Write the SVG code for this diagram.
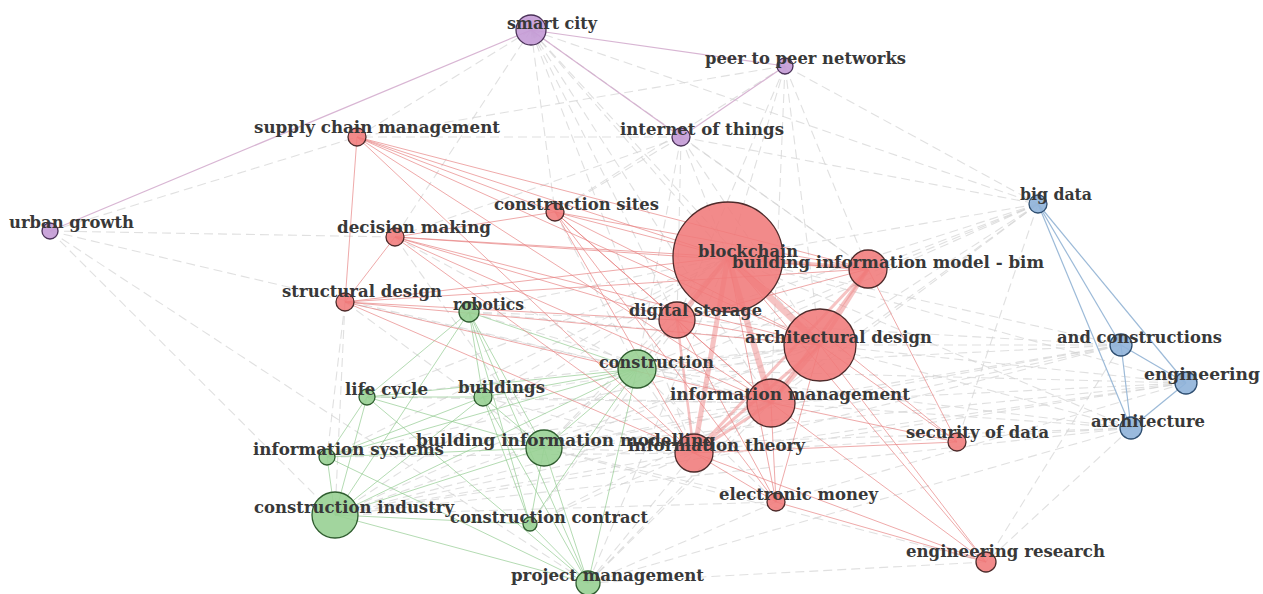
<svg xmlns="http://www.w3.org/2000/svg" width="1263" height="594" viewBox="0 0 1263 594">
<style>
.ed{stroke:#d3d3d3;stroke-width:1.1;stroke-dasharray:9 5;fill:none;opacity:.7}
.ep{stroke:#d2a9cc;stroke-width:1.2;opacity:.85}
.eb{stroke:#9cbad8;stroke-width:1.2}
.er{stroke:#e77d7d;stroke-width:1;opacity:.65}
.et{stroke:#ee8888;opacity:.5}
.eg{stroke:#8dc98b;stroke-width:1;opacity:.65}
.nr{fill:#f07a7a;fill-opacity:.88;stroke:#4d2a2a;stroke-width:1.3}
.ng{fill:#98d094;fill-opacity:.9;stroke:#2f5d2f;stroke-width:1.3}
.np{fill:#c49bd6;fill-opacity:.9;stroke:#4a3158;stroke-width:1.3}
.nb{fill:#8fb3d9;fill-opacity:.9;stroke:#2e4e70;stroke-width:1.3}
text{font-family:"DejaVu Serif","Liberation Serif",serif;font-weight:bold;font-size:16.5px;fill:#383838}
</style>
<g id="connectors">
<g class="ed-group">
<line class="ed" x1="531" y1="30" x2="357" y2="137"/>
<line class="ed" x1="531" y1="30" x2="555" y2="212"/>
<line class="ed" x1="531" y1="30" x2="395" y2="237"/>
<line class="ed" x1="531" y1="30" x2="728" y2="257"/>
<line class="ed" x1="531" y1="30" x2="677" y2="320"/>
<line class="ed" x1="531" y1="30" x2="868" y2="269"/>
<line class="ed" x1="531" y1="30" x2="820" y2="345"/>
<line class="ed" x1="531" y1="30" x2="771" y2="403"/>
<line class="ed" x1="531" y1="30" x2="1038" y2="204"/>
<line class="ed" x1="531" y1="30" x2="694" y2="453"/>
<line class="ed" x1="50" y1="231" x2="357" y2="137"/>
<line class="ed" x1="50" y1="231" x2="637" y2="369"/>
<line class="ed" x1="50" y1="231" x2="335" y2="515"/>
<line class="ed" x1="50" y1="231" x2="588" y2="583"/>
<line class="ed" x1="50" y1="231" x2="395" y2="237"/>
<line class="ed" x1="785" y1="66" x2="728" y2="257"/>
<line class="ed" x1="785" y1="66" x2="677" y2="320"/>
<line class="ed" x1="785" y1="66" x2="868" y2="269"/>
<line class="ed" x1="785" y1="66" x2="820" y2="345"/>
<line class="ed" x1="785" y1="66" x2="1038" y2="204"/>
<line class="ed" x1="785" y1="66" x2="555" y2="212"/>
<line class="ed" x1="785" y1="66" x2="357" y2="137"/>
<line class="ed" x1="785" y1="66" x2="771" y2="403"/>
<line class="ed" x1="681" y1="137" x2="728" y2="257"/>
<line class="ed" x1="681" y1="137" x2="677" y2="320"/>
<line class="ed" x1="681" y1="137" x2="555" y2="212"/>
<line class="ed" x1="681" y1="137" x2="637" y2="369"/>
<line class="ed" x1="681" y1="137" x2="868" y2="269"/>
<line class="ed" x1="681" y1="137" x2="820" y2="345"/>
<line class="ed" x1="681" y1="137" x2="1038" y2="204"/>
<line class="ed" x1="681" y1="137" x2="357" y2="137"/>
<line class="ed" x1="681" y1="137" x2="395" y2="237"/>
<line class="ed" x1="1038" y1="204" x2="728" y2="257"/>
<line class="ed" x1="1038" y1="204" x2="868" y2="269"/>
<line class="ed" x1="1038" y1="204" x2="820" y2="345"/>
<line class="ed" x1="1038" y1="204" x2="771" y2="403"/>
<line class="ed" x1="1038" y1="204" x2="694" y2="453"/>
<line class="ed" x1="1038" y1="204" x2="637" y2="369"/>
<line class="ed" x1="1038" y1="204" x2="957" y2="442"/>
<line class="ed" x1="1038" y1="204" x2="677" y2="320"/>
<line class="ed" x1="1038" y1="204" x2="335" y2="515"/>
<line class="ed" x1="1121" y1="345" x2="728" y2="257"/>
<line class="ed" x1="1121" y1="345" x2="820" y2="345"/>
<line class="ed" x1="1121" y1="345" x2="771" y2="403"/>
<line class="ed" x1="1121" y1="345" x2="694" y2="453"/>
<line class="ed" x1="1121" y1="345" x2="637" y2="369"/>
<line class="ed" x1="1121" y1="345" x2="544" y2="448"/>
<line class="ed" x1="1121" y1="345" x2="335" y2="515"/>
<line class="ed" x1="1121" y1="345" x2="677" y2="320"/>
<line class="ed" x1="1186" y1="383" x2="728" y2="257"/>
<line class="ed" x1="1186" y1="383" x2="820" y2="345"/>
<line class="ed" x1="1186" y1="383" x2="771" y2="403"/>
<line class="ed" x1="1186" y1="383" x2="694" y2="453"/>
<line class="ed" x1="1186" y1="383" x2="637" y2="369"/>
<line class="ed" x1="1186" y1="383" x2="544" y2="448"/>
<line class="ed" x1="1186" y1="383" x2="335" y2="515"/>
<line class="ed" x1="1186" y1="383" x2="776" y2="502"/>
<line class="ed" x1="1131" y1="428" x2="728" y2="257"/>
<line class="ed" x1="1131" y1="428" x2="820" y2="345"/>
<line class="ed" x1="1131" y1="428" x2="771" y2="403"/>
<line class="ed" x1="1131" y1="428" x2="694" y2="453"/>
<line class="ed" x1="1131" y1="428" x2="637" y2="369"/>
<line class="ed" x1="1131" y1="428" x2="544" y2="448"/>
<line class="ed" x1="1131" y1="428" x2="335" y2="515"/>
<line class="ed" x1="1131" y1="428" x2="986" y2="562"/>
<line class="ed" x1="1131" y1="428" x2="588" y2="583"/>
<line class="ed" x1="1121" y1="345" x2="986" y2="562"/>
<line class="ed" x1="986" y1="562" x2="588" y2="583"/>
<line class="ed" x1="986" y1="562" x2="544" y2="448"/>
<line class="ed" x1="345" y1="302" x2="335" y2="515"/>
<line class="ed" x1="345" y1="302" x2="327" y2="457"/>
<line class="ed" x1="637" y1="369" x2="728" y2="257"/>
<line class="ed" x1="637" y1="369" x2="820" y2="345"/>
<line class="ed" x1="637" y1="369" x2="771" y2="403"/>
<line class="ed" x1="637" y1="369" x2="694" y2="453"/>
<line class="ed" x1="637" y1="369" x2="677" y2="320"/>
<line class="ed" x1="637" y1="369" x2="776" y2="502"/>
<line class="ed" x1="544" y1="448" x2="728" y2="257"/>
<line class="ed" x1="544" y1="448" x2="820" y2="345"/>
<line class="ed" x1="544" y1="448" x2="771" y2="403"/>
<line class="ed" x1="544" y1="448" x2="694" y2="453"/>
<line class="ed" x1="544" y1="448" x2="776" y2="502"/>
<line class="ed" x1="544" y1="448" x2="677" y2="320"/>
<line class="ed" x1="335" y1="515" x2="728" y2="257"/>
<line class="ed" x1="335" y1="515" x2="820" y2="345"/>
<line class="ed" x1="335" y1="515" x2="771" y2="403"/>
<line class="ed" x1="335" y1="515" x2="694" y2="453"/>
<line class="ed" x1="335" y1="515" x2="776" y2="502"/>
<line class="ed" x1="588" y1="583" x2="728" y2="257"/>
<line class="ed" x1="588" y1="583" x2="771" y2="403"/>
<line class="ed" x1="588" y1="583" x2="694" y2="453"/>
<line class="ed" x1="588" y1="583" x2="776" y2="502"/>
<line class="ed" x1="588" y1="583" x2="820" y2="345"/>
<line class="ed" x1="530" y1="524" x2="694" y2="453"/>
<line class="ed" x1="530" y1="524" x2="771" y2="403"/>
<line class="ed" x1="530" y1="524" x2="728" y2="257"/>
<line class="ed" x1="469" y1="312" x2="728" y2="257"/>
<line class="ed" x1="469" y1="312" x2="820" y2="345"/>
<line class="ed" x1="469" y1="312" x2="677" y2="320"/>
<line class="ed" x1="469" y1="312" x2="771" y2="403"/>
<line class="ed" x1="367" y1="397" x2="728" y2="257"/>
<line class="ed" x1="367" y1="397" x2="820" y2="345"/>
<line class="ed" x1="367" y1="397" x2="771" y2="403"/>
<line class="ed" x1="483" y1="397" x2="728" y2="257"/>
<line class="ed" x1="483" y1="397" x2="820" y2="345"/>
<line class="ed" x1="483" y1="397" x2="771" y2="403"/>
<line class="ed" x1="483" y1="397" x2="694" y2="453"/>
<line class="ed" x1="327" y1="457" x2="728" y2="257"/>
<line class="ed" x1="327" y1="457" x2="820" y2="345"/>
<line class="ed" x1="327" y1="457" x2="771" y2="403"/>
<line class="ed" x1="327" y1="457" x2="694" y2="453"/>
<line class="ed" x1="555" y1="212" x2="637" y2="369"/>
<line class="ed" x1="395" y1="237" x2="637" y2="369"/>
<line class="ed" x1="345" y1="302" x2="637" y2="369"/>
<line class="ed" x1="345" y1="302" x2="544" y2="448"/>
<line class="ed" x1="395" y1="237" x2="544" y2="448"/>
</g>
<g class="purple">
<line class="ep" x1="531" y1="30" x2="50" y2="231"/>
<line class="ep" x1="531" y1="30" x2="785" y2="66"/>
<line class="ep" x1="785" y1="66" x2="681" y2="137"/>
<line class="ep" x1="531" y1="30" x2="681" y2="137"/>
</g>
<g class="blue">
<line class="eb" x1="1038" y1="204" x2="1121" y2="345"/>
<line class="eb" x1="1038" y1="204" x2="1186" y2="383"/>
<line class="eb" x1="1038" y1="204" x2="1131" y2="428"/>
<line class="eb" x1="1121" y1="345" x2="1131" y2="428"/>
<line class="eb" x1="1121" y1="345" x2="1186" y2="383"/>
<line class="eb" x1="1186" y1="383" x2="1131" y2="428"/>
</g>
<g class="green">
<line class="eg" x1="335" y1="515" x2="327" y2="457"/>
<line class="eg" x1="335" y1="515" x2="367" y2="397"/>
<line class="eg" x1="335" y1="515" x2="483" y2="397"/>
<line class="eg" x1="335" y1="515" x2="469" y2="312"/>
<line class="eg" x1="335" y1="515" x2="544" y2="448"/>
<line class="eg" x1="335" y1="515" x2="637" y2="369"/>
<line class="eg" x1="335" y1="515" x2="530" y2="524"/>
<line class="eg" x1="335" y1="515" x2="588" y2="583"/>
<line class="eg" x1="588" y1="583" x2="469" y2="312"/>
<line class="eg" x1="588" y1="583" x2="483" y2="397"/>
<line class="eg" x1="588" y1="583" x2="544" y2="448"/>
<line class="eg" x1="588" y1="583" x2="530" y2="524"/>
<line class="eg" x1="588" y1="583" x2="367" y2="397"/>
<line class="eg" x1="588" y1="583" x2="637" y2="369"/>
<line class="eg" x1="588" y1="583" x2="327" y2="457"/>
<line class="eg" x1="544" y1="448" x2="469" y2="312"/>
<line class="eg" x1="544" y1="448" x2="367" y2="397"/>
<line class="eg" x1="544" y1="448" x2="483" y2="397"/>
<line class="eg" x1="544" y1="448" x2="637" y2="369"/>
<line class="eg" x1="544" y1="448" x2="327" y2="457"/>
<line class="eg" x1="544" y1="448" x2="530" y2="524"/>
<line class="eg" x1="637" y1="369" x2="469" y2="312"/>
<line class="eg" x1="637" y1="369" x2="367" y2="397"/>
<line class="eg" x1="637" y1="369" x2="483" y2="397"/>
<line class="eg" x1="637" y1="369" x2="327" y2="457"/>
<line class="eg" x1="637" y1="369" x2="530" y2="524"/>
<line class="eg" x1="469" y1="312" x2="483" y2="397"/>
<line class="eg" x1="469" y1="312" x2="367" y2="397"/>
<line class="eg" x1="469" y1="312" x2="530" y2="524"/>
<line class="eg" x1="367" y1="397" x2="483" y2="397"/>
<line class="eg" x1="367" y1="397" x2="327" y2="457"/>
<line class="eg" x1="327" y1="457" x2="483" y2="397"/>
<line class="eg" x1="530" y1="524" x2="483" y2="397"/>
</g>
<g class="red">
<line class="er" x1="728" y1="257" x2="357" y2="137"/>
<line class="er" x1="728" y1="257" x2="555" y2="212"/>
<line class="er" x1="728" y1="257" x2="395" y2="237"/>
<line class="er" x1="728" y1="257" x2="345" y2="302"/>
<line class="er" x1="728" y1="257" x2="957" y2="442"/>
<line class="er" x1="728" y1="257" x2="776" y2="502"/>
<line class="er" x1="728" y1="257" x2="986" y2="562"/>
<line class="er" x1="868" y1="269" x2="357" y2="137"/>
<line class="er" x1="868" y1="269" x2="395" y2="237"/>
<line class="er" x1="868" y1="269" x2="677" y2="320"/>
<line class="er" x1="868" y1="269" x2="957" y2="442"/>
<line class="er" x1="868" y1="269" x2="555" y2="212"/>
<line class="er" x1="868" y1="269" x2="345" y2="302"/>
<line class="er" x1="820" y1="345" x2="357" y2="137"/>
<line class="er" x1="820" y1="345" x2="555" y2="212"/>
<line class="er" x1="820" y1="345" x2="395" y2="237"/>
<line class="er" x1="820" y1="345" x2="345" y2="302"/>
<line class="er" x1="820" y1="345" x2="677" y2="320"/>
<line class="er" x1="820" y1="345" x2="776" y2="502"/>
<line class="er" x1="820" y1="345" x2="957" y2="442"/>
<line class="er" x1="820" y1="345" x2="986" y2="562"/>
<line class="er" x1="771" y1="403" x2="555" y2="212"/>
<line class="er" x1="771" y1="403" x2="395" y2="237"/>
<line class="er" x1="771" y1="403" x2="345" y2="302"/>
<line class="er" x1="771" y1="403" x2="677" y2="320"/>
<line class="er" x1="771" y1="403" x2="776" y2="502"/>
<line class="er" x1="771" y1="403" x2="986" y2="562"/>
<line class="er" x1="771" y1="403" x2="957" y2="442"/>
<line class="er" x1="694" y1="453" x2="555" y2="212"/>
<line class="er" x1="694" y1="453" x2="395" y2="237"/>
<line class="er" x1="694" y1="453" x2="345" y2="302"/>
<line class="er" x1="694" y1="453" x2="776" y2="502"/>
<line class="er" x1="694" y1="453" x2="986" y2="562"/>
<line class="er" x1="694" y1="453" x2="957" y2="442"/>
<line class="er" x1="694" y1="453" x2="357" y2="137"/>
<line class="er" x1="771" y1="403" x2="357" y2="137"/>
<line class="er" x1="677" y1="320" x2="555" y2="212"/>
<line class="er" x1="677" y1="320" x2="395" y2="237"/>
<line class="er" x1="677" y1="320" x2="345" y2="302"/>
<line class="er" x1="677" y1="320" x2="776" y2="502"/>
<line class="er" x1="357" y1="137" x2="345" y2="302"/>
<line class="er" x1="357" y1="137" x2="555" y2="212"/>
<line class="er" x1="395" y1="237" x2="555" y2="212"/>
<line class="er" x1="345" y1="302" x2="395" y2="237"/>
<line class="er" x1="555" y1="212" x2="776" y2="502"/>
<line class="er" x1="776" y1="502" x2="986" y2="562"/>
<line class="et" x1="728" y1="257" x2="820" y2="345" stroke-width="7"/>
<line class="et" x1="728" y1="257" x2="771" y2="403" stroke-width="6"/>
<line class="et" x1="728" y1="257" x2="694" y2="453" stroke-width="5"/>
<line class="et" x1="728" y1="257" x2="677" y2="320" stroke-width="5"/>
<line class="et" x1="728" y1="257" x2="868" y2="269" stroke-width="4"/>
<line class="et" x1="868" y1="269" x2="820" y2="345" stroke-width="4"/>
<line class="et" x1="868" y1="269" x2="771" y2="403" stroke-width="3"/>
<line class="et" x1="868" y1="269" x2="694" y2="453" stroke-width="3"/>
<line class="et" x1="820" y1="345" x2="771" y2="403" stroke-width="4"/>
<line class="et" x1="820" y1="345" x2="694" y2="453" stroke-width="3"/>
<line class="et" x1="771" y1="403" x2="694" y2="453" stroke-width="3"/>
<line class="et" x1="677" y1="320" x2="694" y2="453" stroke-width="2.5"/>
</g>
</g>
<g id="node-blockchain"><circle class="nr" cx="728" cy="257" r="55"/><text x="698" y="257" textLength="100" lengthAdjust="spacingAndGlyphs">blockchain</text></g>
<g id="node-architectural-design"><circle class="nr" cx="820" cy="345" r="36"/><text x="745" y="343" textLength="187" lengthAdjust="spacingAndGlyphs">architectural design</text></g>
<g id="node-information-management"><circle class="nr" cx="771" cy="403" r="24"/><text x="670" y="400" textLength="240" lengthAdjust="spacingAndGlyphs">information management</text></g>
<g id="node-construction-industry"><circle class="ng" cx="335" cy="515" r="23"/><text x="254" y="513" textLength="200" lengthAdjust="spacingAndGlyphs">construction industry</text></g>
<g id="node-bim"><circle class="nr" cx="868" cy="269" r="19"/><text x="732" y="268" textLength="312" lengthAdjust="spacingAndGlyphs">building information model - bim</text></g>
<g id="node-information-theory"><circle class="nr" cx="694" cy="453" r="19"/><text x="628" y="451" textLength="177" lengthAdjust="spacingAndGlyphs">information theory</text></g>
<g id="node-construction"><circle class="ng" cx="637" cy="369" r="19"/><text x="599" y="368" textLength="115" lengthAdjust="spacingAndGlyphs">construction</text></g>
<g id="node-digital-storage"><circle class="nr" cx="677" cy="320" r="18"/><text x="629" y="316" textLength="133" lengthAdjust="spacingAndGlyphs">digital storage</text></g>
<g id="node-building-information-modelling"><circle class="ng" cx="544" cy="448" r="18"/><text x="416" y="446" textLength="299" lengthAdjust="spacingAndGlyphs">building information modelling</text></g>
<g id="node-smart-city"><circle class="np" cx="531" cy="30" r="15"/><text x="507" y="29" textLength="90" lengthAdjust="spacingAndGlyphs">smart city</text></g>
<g id="node-project-management"><circle class="ng" cx="588" cy="583" r="12"/><text x="511" y="581" textLength="193" lengthAdjust="spacingAndGlyphs">project management</text></g>
<g id="node-and-constructions"><circle class="nb" cx="1121" cy="345" r="11"/><text x="1057" y="343" textLength="165" lengthAdjust="spacingAndGlyphs">and constructions</text></g>
<g id="node-engineering"><circle class="nb" cx="1186" cy="383" r="11"/><text x="1144" y="380" textLength="116" lengthAdjust="spacingAndGlyphs">engineering</text></g>
<g id="node-architecture"><circle class="nb" cx="1131" cy="428" r="11"/><text x="1091" y="427" textLength="114" lengthAdjust="spacingAndGlyphs">architecture</text></g>
<g id="node-robotics"><circle class="ng" cx="469" cy="312" r="10"/><text x="453" y="310" textLength="71" lengthAdjust="spacingAndGlyphs">robotics</text></g>
<g id="node-engineering-research"><circle class="nr" cx="986" cy="562" r="10"/><text x="906" y="557" textLength="199" lengthAdjust="spacingAndGlyphs">engineering research</text></g>
<g id="node-internet-of-things"><circle class="np" cx="681" cy="137" r="9"/><text x="620" y="135" textLength="164" lengthAdjust="spacingAndGlyphs">internet of things</text></g>
<g id="node-supply-chain-management"><circle class="nr" cx="357" cy="137" r="9"/><text x="254" y="133" textLength="246" lengthAdjust="spacingAndGlyphs">supply chain management</text></g>
<g id="node-construction-sites"><circle class="nr" cx="555" cy="212" r="9"/><text x="494" y="210" textLength="165" lengthAdjust="spacingAndGlyphs">construction sites</text></g>
<g id="node-decision-making"><circle class="nr" cx="395" cy="237" r="9"/><text x="337" y="233" textLength="154" lengthAdjust="spacingAndGlyphs">decision making</text></g>
<g id="node-structural-design"><circle class="nr" cx="345" cy="302" r="9"/><text x="282" y="297" textLength="160" lengthAdjust="spacingAndGlyphs">structural design</text></g>
<g id="node-big-data"><circle class="nb" cx="1038" cy="204" r="9"/><text x="1020" y="200" textLength="72" lengthAdjust="spacingAndGlyphs">big data</text></g>
<g id="node-buildings"><circle class="ng" cx="483" cy="397" r="9"/><text x="458" y="393" textLength="87" lengthAdjust="spacingAndGlyphs">buildings</text></g>
<g id="node-security-of-data"><circle class="nr" cx="957" cy="442" r="9"/><text x="906" y="438" textLength="143" lengthAdjust="spacingAndGlyphs">security of data</text></g>
<g id="node-electronic-money"><circle class="nr" cx="776" cy="502" r="9"/><text x="719" y="500" textLength="159" lengthAdjust="spacingAndGlyphs">electronic money</text></g>
<g id="node-peer-to-peer-networks"><circle class="np" cx="785" cy="66" r="8"/><text x="705" y="64" textLength="201" lengthAdjust="spacingAndGlyphs">peer to peer networks</text></g>
<g id="node-urban-growth"><circle class="np" cx="50" cy="231" r="8"/><text x="9" y="228" textLength="125" lengthAdjust="spacingAndGlyphs">urban growth</text></g>
<g id="node-life-cycle"><circle class="ng" cx="367" cy="397" r="8"/><text x="345" y="395" textLength="83" lengthAdjust="spacingAndGlyphs">life cycle</text></g>
<g id="node-information-systems"><circle class="ng" cx="327" cy="457" r="8"/><text x="253" y="455" textLength="191" lengthAdjust="spacingAndGlyphs">information systems</text></g>
<g id="node-construction-contract"><circle class="ng" cx="530" cy="524" r="7"/><text x="450" y="523" textLength="198" lengthAdjust="spacingAndGlyphs">construction contract</text></g>
</svg>
